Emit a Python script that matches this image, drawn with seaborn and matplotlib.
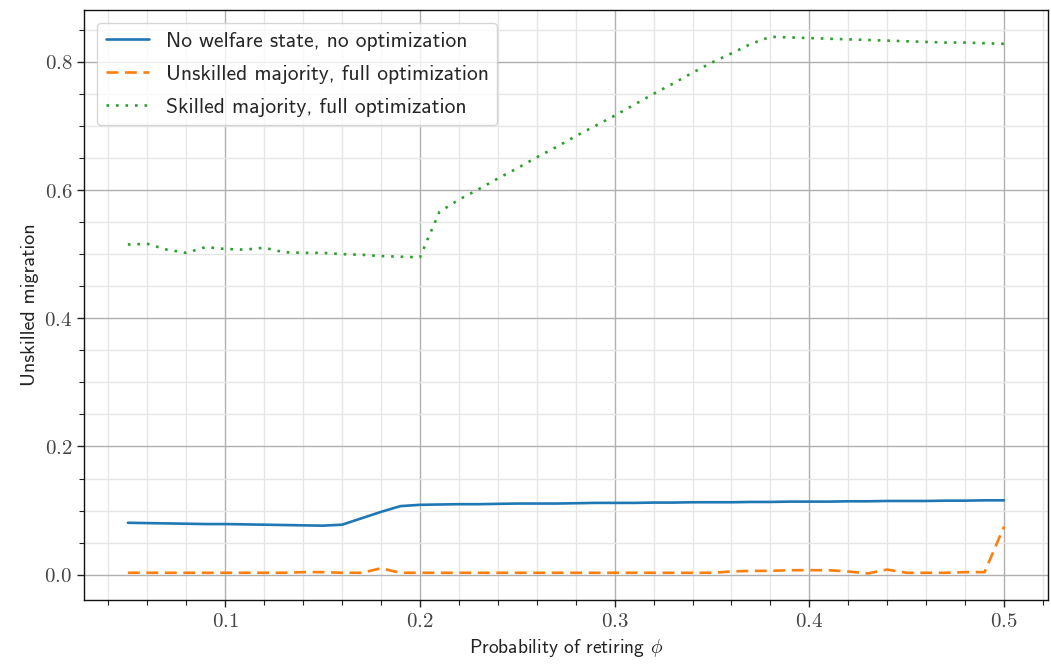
import numpy as np
import pandas as pd
import matplotlib
matplotlib.use("Agg")
import matplotlib.pyplot as plt
import seaborn as sns
from matplotlib.ticker import MultipleLocator, FuncFormatter

# ==========================================
# DATA
# ==========================================
phi = [0.05, 0.06, 0.07, 0.08, 0.09, 0.10, 0.11, 0.12, 0.13, 0.14,
       0.15, 0.16, 0.17, 0.18, 0.19, 0.20, 0.21, 0.22, 0.23, 0.24,
       0.25, 0.26, 0.27, 0.28, 0.29, 0.30, 0.31, 0.32, 0.33, 0.34,
       0.35, 0.36, 0.37, 0.38, 0.39, 0.40, 0.41, 0.42, 0.43, 0.44,
       0.45, 0.46, 0.47, 0.48, 0.49, 0.50]

no_welfare = [0.081, 0.0805, 0.080, 0.0795, 0.079, 0.079, 0.0785, 0.078, 0.0775, 0.077,
              0.0765, 0.078, 0.088, 0.098, 0.107, 0.109, 0.1095, 0.110, 0.110, 0.1105,
              0.111, 0.111, 0.111, 0.1115, 0.112, 0.112, 0.112, 0.1125, 0.1125, 0.113,
              0.113, 0.113, 0.1135, 0.1135, 0.114, 0.114, 0.114, 0.1145, 0.1145, 0.115,
              0.115, 0.115, 0.1155, 0.1155, 0.116, 0.116]

unskilled_major = [0.003, 0.003, 0.003, 0.003, 0.003, 0.003, 0.003, 0.003, 0.003, 0.004,
                   0.004, 0.003, 0.003, 0.010, 0.003, 0.003, 0.003, 0.003, 0.003, 0.003,
                   0.003, 0.003, 0.003, 0.003, 0.003, 0.003, 0.003, 0.003, 0.003, 0.003,
                   0.003, 0.005, 0.006, 0.006, 0.007, 0.007, 0.007, 0.005, 0.002, 0.008,
                   0.003, 0.003, 0.003, 0.004, 0.004, 0.075]

skilled_major = [0.515, 0.516, 0.507, 0.502, 0.511, 0.508, 0.507, 0.510, 0.503, 0.502,
                 0.502, 0.500, 0.499, 0.497, 0.496, 0.495, 0.566, 0.585, 0.601, 0.618,
                 0.634, 0.651, 0.667, 0.684, 0.700, 0.716, 0.733, 0.750, 0.766, 0.783,
                 0.799, 0.813, 0.828, 0.839, 0.838, 0.837, 0.836, 0.835, 0.834, 0.833,
                 0.832, 0.831, 0.830, 0.830, 0.829, 0.828]

labels = ["No welfare state, no optimization",
          "Unskilled majority, full optimization",
          "Skilled majority, full optimization"]

# ==========================================
# STYLE
# ==========================================
sns.set_theme(style="ticks")
plt.rcParams["font.family"] = ["cmss10", "DejaVu Sans"]
plt.rcParams["mathtext.fontset"] = "cm"
plt.rcParams["axes.unicode_minus"] = False

df = pd.DataFrame({
    "phi": phi,
    labels[0]: no_welfare,
    labels[1]: unskilled_major,
    labels[2]: skilled_major,
})

# ==========================================
# PLOT
# ==========================================
fig, ax = plt.subplots(figsize=(10.51, 6.64), dpi=100)
fig.subplots_adjust(left=0.080, right=0.997, top=0.985, bottom=0.096)

colors = ["#1f77b4", "#ff7f0e", "#2ca02c"]
dashes = [None, (4.5, 2.5), (1.0, 2.6)]
for lab, c, d in zip(labels, colors, dashes):
    kw = {} if d is None else {"dashes": d}
    sns.lineplot(data=df, x="phi", y=lab, ax=ax, color=c,
                 linewidth=1.9, label=lab, **kw)

ax.xaxis.set_major_locator(MultipleLocator(0.1))
ax.xaxis.set_minor_locator(MultipleLocator(0.02))
ax.yaxis.set_major_locator(MultipleLocator(0.2))
ax.yaxis.set_minor_locator(MultipleLocator(0.05))
fmt = FuncFormatter(lambda v, p: "$%.1f$" % v)
ax.xaxis.set_major_formatter(fmt)
ax.yaxis.set_major_formatter(fmt)

ax.grid(which="major", color="#b0b0b0", linewidth=1.0)
ax.grid(which="minor", color="#e6e6e6", linewidth=1.0)
ax.set_axisbelow(True)

ax.tick_params(which="major", direction="out", length=5, width=1, colors="#222222",
               labelsize=15, labelcolor="#444444")
ax.tick_params(which="minor", direction="out", length=3.5, width=0.8, colors="#222222")
for s in ax.spines.values():
    s.set_color("#111111")
    s.set_linewidth(1.0)

ax.set_xlabel(r"Probability of retiring $\phi$", fontsize=14, color="#222222")
ax.set_ylabel("Unskilled migration", fontsize=14.5, color="#222222")

leg = ax.legend(loc="upper left", fontsize=15.5, frameon=True, fancybox=True,
                framealpha=0.8, edgecolor="#cccccc", handlelength=2.0,
                borderaxespad=0.6, labelspacing=0.65)

plt.savefig("out.png", dpi=100)
